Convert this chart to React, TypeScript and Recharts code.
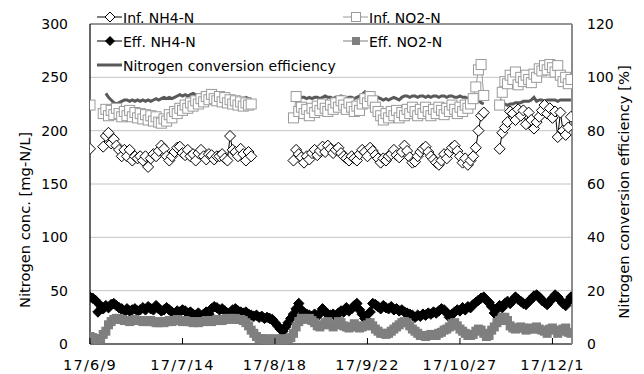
import React from 'react';
import { ComposedChart, Line, XAxis, YAxis, CartesianGrid, Legend, ReferenceLine } from 'recharts';

// ---- axis ticks ----
const tickDays = [0, 35, 70, 105, 140, 175];
const tickLabels = ['17/6/9', '17/7/14', '17/8/18', '17/9/22', '17/10/27', '17/12/1'];
const leftTicks = [0, 50, 100, 150, 200, 250, 300];
const rightTicks = [0, 20, 40, 60, 80, 100, 120];

// ---- series names ----
const seriesNames = {
  infNH4: 'Inf. NH4-N',
  infNO2: 'Inf. NO2-N',
  effNH4: 'Eff. NH4-N',
  effNO2: 'Eff. NO2-N',
  eff: 'Nitrogen conversion efficiency',
};

// ---- influent segments (start day of each segment) ----
const infStarts = [0, 5, 77, 155];
const infNH4A = [183];
const infNH4B = [
  185, 195, 198, 188, 192, 186, 182, 176, 182, 176,
  182, 172, 176, 174, 176, 172, 176, 166, 174, 178,
  176, 181, 186, 183, 176, 172, 176, 180, 184, 185,
  179, 177, 182, 176, 178, 172, 179, 182, 176, 173,
  178, 177, 173, 176, 176, 178, 174, 172, 195, 182,
  180, 176, 183, 178, 172, 180, 176,
];
const infNH4C = [
  172, 182, 178, 175, 170, 176, 173, 179, 182, 177,
  181, 185, 180, 186, 183, 179, 182, 184, 179, 176,
  174, 172, 176, 174, 172, 178, 182, 180, 176, 184,
  181, 177, 174, 170, 174, 172, 176, 178, 182, 177,
  175, 180, 186, 181, 175, 170, 171, 176, 180, 183,
  185, 180, 176, 173, 170, 168, 172, 178, 174, 180,
  184, 186, 181, 176, 170, 174, 168, 172, 176, 184,
  200, 214, 217,
];
const infNH4D = [
  183, 198, 203, 208, 218, 216, 210, 220, 214, 219,
  206, 217, 210, 202, 208, 213, 219, 224, 216, 221,
  212, 218, 194, 217, 200, 196, 203, 213,
];

const infNO2A = [224];
const infNO2B = [
  216, 220, 214, 219, 215, 221, 216, 213, 218, 214,
  219, 213, 217, 212, 216, 211, 215, 210, 214, 209,
  213, 208, 207, 211, 209, 215, 212, 218, 216, 221,
  219, 224, 221, 226, 223, 228, 225, 230, 227, 232,
  229, 234, 230, 228, 232, 227, 231, 226, 229, 225,
  228, 224, 227, 223, 226, 224, 225,
];
const infNO2C = [
  212, 232, 218, 222, 216, 220, 214, 221, 217, 223,
  219, 225, 221, 218, 224, 220, 226, 222, 228, 224,
  220, 226, 222, 218, 223, 219, 225, 230, 226, 232,
  228, 222, 218, 214, 210, 216, 212, 218, 214, 219,
  212, 217, 214, 220, 216, 222, 218, 214, 220, 216,
  222, 218, 214, 220, 216, 222, 219, 215, 221, 218,
  224, 220, 216, 222, 218, 224, 221, 225, 230, 241,
  257, 262, 233,
];
const infNO2D = [
  224, 236, 246, 244, 252, 248, 255, 243, 250, 246,
  252, 248, 245, 253, 250, 258, 256, 261, 257, 262,
  259, 255, 261, 252, 246, 250, 244, 248,
];

// ---- conversion efficiency segments ----
const effStarts = [6, 77, 155];
const effA = [
  94, 92.5, 91.5, 90.5, 90, 90.5, 91, 91.5, 91.5, 91,
  91.5, 91, 91.5, 91, 91.5, 91, 91.5, 91, 91.5, 92,
  91.5, 92, 92.5, 92, 92.5, 92, 92.5, 93, 93.5, 93,
  93.5, 93, 93.5, 94, 93.5, 93, 93.5, 93, 93.5, 93,
  92.5, 93, 92.5, 92, 92.5, 92, 92.5, 92, 92.5, 92,
  92.5, 92, 92, 92.5, 92, 92,
];
const effB = [
  94, 93, 92, 92.5, 92.5, 92, 92.5, 92, 92.5, 92.5,
  92, 92.5, 93, 92.5, 92.5, 92, 92.5, 92.5, 93, 92.5,
  92, 92.5, 92.5, 92, 92.5, 93, 93.5, 94.5, 93, 92,
  92.5, 92, 92.5, 92, 91.5, 92, 91.5, 92, 92.5, 92,
  91.5, 92.5, 93, 93, 92.5, 93, 93, 92.5, 93, 93,
  92.5, 93, 92.5, 93, 93, 92.5, 93, 93, 92.5, 93,
  93, 92.5, 92.5, 93, 92.5, 92.5, 92, 92.5, 92, 91.5,
  91.5, 90.5, 90,
];
const effC = [
  91.5, 90.5, 90, 89.5, 90, 90, 90.5, 90.5, 90.5, 91,
  91, 91, 91.5, 92.5, 91, 91.5, 91.5, 91, 91.5, 91.5,
  91.5, 91.5, 91, 91.5, 91.5, 91.5, 91.5, 91.5,
];

// ---- effluent (daily, day 0 .. 182) ----
const effNH4 = [
  44, 43, 41, 30, 36, 33, 36, 34, 37, 38,
  36, 34, 33, 30, 33, 31, 32, 33, 31, 32,
  34, 32, 35, 33, 32, 36, 33, 31, 32, 34,
  32, 30, 28, 31, 30, 32, 31, 29, 30, 28,
  27, 29, 26, 28, 30, 28, 33, 35, 34, 32,
  33, 31, 29, 27, 32, 33, 31, 30, 29, 30,
  28, 27, 26, 27, 25, 26, 24, 25, 24, 23,
  20, 17, 14, 12, 16, 20, 24, 28, 33, 38,
  32, 29, 28, 27, 26, 28, 26, 29, 33, 30,
  28, 27, 28, 26, 29, 31, 30, 34, 31, 33,
  36, 38, 32, 28, 24, 22, 30, 38, 37, 35,
  33, 36, 34, 33, 35, 32, 33, 31, 32, 30,
  29, 28, 27, 25, 27, 26, 28, 27, 29, 28,
  30, 29, 31, 33, 32, 29, 25, 28, 30, 32,
  31, 34, 32, 35, 34, 37, 39, 41, 43, 44,
  41, 39, 35, 29, 33, 36, 34, 38, 40, 38,
  41, 44, 42, 40, 38, 37, 40, 42, 45, 46,
  44, 41, 39, 37, 40, 43, 46, 44, 41, 38,
  36, 40, 44,
];
const effNO2 = [
  7, 6, 5, 4, 5, 9, 12, 18, 21, 23,
  24, 24, 23, 22, 22, 21, 22, 23, 22, 22,
  21, 22, 21, 22, 21, 20, 20, 21, 20, 21,
  22, 21, 22, 23, 22, 21, 22, 21, 21, 20,
  21, 20, 21, 21, 22, 22, 21, 22, 23, 22,
  22, 23, 24, 24, 23, 24, 23, 23, 22, 20,
  17, 13, 10, 7, 5, 5, 4, 5, 4, 4,
  5, 4, 4, 5, 4, 5, 6, 10, 16, 21,
  24, 24, 23, 24, 22, 20, 17, 16, 18, 20,
  21, 18, 16, 18, 21, 20, 17, 16, 15, 16,
  19, 17, 15, 16, 17, 18, 20, 17, 14, 12,
  10, 10, 9, 10, 12, 14, 16, 18, 20, 21,
  20, 17, 14, 12, 10, 8, 8, 7, 8, 9,
  8, 8, 10, 11, 13, 14, 16, 19, 20, 17,
  14, 12, 10, 8, 8, 9, 12, 14, 13, 10,
  7, 8, 13, 16, 20, 22, 25, 25, 22, 17,
  15, 14, 15, 16, 15, 13, 14, 15, 14, 16,
  14, 13, 12, 10, 14, 15, 13, 10, 12, 14,
  15, 11, 10,
];

// ---- build table ----
type Row = {
  day: number;
  infNH4: number | null;
  infNO2: number | null;
  effNH4: number | null;
  effNO2: number | null;
  eff: number | null;
};
const rows: Row[] = effNH4.map((v, d) => ({
  day: d,
  infNH4: null,
  infNO2: null,
  effNH4: v,
  effNO2: effNO2[d],
  eff: null,
}));
function fill(key: 'infNH4' | 'infNO2' | 'eff', start: number, vals: number[]) {
  vals.forEach((v, i) => {
    rows[start + i][key] = v;
  });
}
[infNH4A, infNH4B, infNH4C, infNH4D].forEach((s, i) => fill('infNH4', infStarts[i], s));
[infNO2A, infNO2B, infNO2C, infNO2D].forEach((s, i) => fill('infNO2', infStarts[i], s));
[effA, effB, effC].forEach((s, i) => fill('eff', effStarts[i], s));

// ---- styles ----
const FONT = "'DejaVu Sans', 'Noto Sans CJK JP', sans-serif";
const INF_NO2_COLOR = '#9a9a9a';
const EFF_NO2_COLOR = '#7f7f7f';
const EFF_COLOR = '#595959';

function diamondPath(cx: number, cy: number, r: number) {
  return `M${cx},${cy - r}L${cx + r},${cy}L${cx},${cy + r}L${cx - r},${cy}Z`;
}

const makeDot = (kind: 'openDiamond' | 'openSquare' | 'fillDiamond' | 'fillSquare') => (props: any) => {
  const { cx, cy, index } = props;
  if (cx == null || cy == null || props.value == null) return <g key={`d-${kind}-${index}`} />;
  if (kind === 'openDiamond')
    return <path key={`d-${kind}-${index}`} d={diamondPath(cx, cy, 5.5)} fill="#fff" stroke="#000" strokeWidth={1} />;
  if (kind === 'fillDiamond')
    return <path key={`d-${kind}-${index}`} d={diamondPath(cx, cy, 5.2)} fill="#000" stroke="#000" strokeWidth={1} />;
  if (kind === 'openSquare')
    return <rect key={`d-${kind}-${index}`} x={cx - 5} y={cy - 5} width={10} height={10} fill="#fff" stroke={INF_NO2_COLOR} strokeWidth={1} />;
  return <rect key={`d-${kind}-${index}`} x={cx - 4.5} y={cy - 4.5} width={9} height={9} fill={EFF_NO2_COLOR} stroke="none" />;
};

const XTick = (props: any) => {
  const { x, y, index } = props;
  return (
    <g>
      <line x1={x} x2={x} y1={y} y2={y - 6} stroke="#000" strokeWidth={1} />
      <text x={x} y={y + 26} textAnchor="middle" fontSize={14.5} fontFamily={FONT} fill="#000" letterSpacing={1.2}>
        {tickLabels[index]}
      </text>
    </g>
  );
};

const AxisTitle = (props: any) => {
  const { cx, cy, text } = props;
  return (
    <text
      x={cx}
      y={cy}
      transform={`rotate(-90 ${cx} ${cy})`}
      textAnchor="middle"
      dominantBaseline="central"
      fontSize={14.7}
      fontFamily={FONT}
      fill="#000"
    >
      {text}
    </text>
  );
};

const legendSlots: Record<string, { x: number; y: number }> = {
  infNH4: { x: 97, y: 17 },
  infNO2: { x: 343, y: 17 },
  effNH4: { x: 97, y: 41 },
  effNO2: { x: 343, y: 41 },
  eff: { x: 97, y: 65 },
};

const LegendMarker = ({ k, x, y }: { k: string; x: number; y: number }) => {
  const mid = x + 13;
  if (k === 'infNH4')
    return (
      <g>
        <line x1={x} x2={x + 25} y1={y} y2={y} stroke="#000" />
        <path d={diamondPath(mid, y, 5)} fill="#fff" stroke="#000" />
      </g>
    );
  if (k === 'effNH4')
    return (
      <g>
        <line x1={x} x2={x + 25} y1={y} y2={y} stroke="#000" />
        <path d={diamondPath(mid, y, 4.5)} fill="#000" stroke="#000" />
      </g>
    );
  if (k === 'infNO2')
    return (
      <g>
        <line x1={x} x2={x + 25} y1={y} y2={y} stroke={INF_NO2_COLOR} />
        <rect x={mid - 4.5} y={y - 4.5} width={9} height={9} fill="#fff" stroke={INF_NO2_COLOR} />
      </g>
    );
  if (k === 'effNO2')
    return (
      <g>
        <line x1={x} x2={x + 25} y1={y} y2={y} stroke={EFF_NO2_COLOR} />
        <rect x={mid - 4} y={y - 4} width={8} height={8} fill={EFF_NO2_COLOR} />
      </g>
    );
  return <line x1={x} x2={x + 25} y1={y} y2={y} stroke={EFF_COLOR} strokeWidth={3} />;
};

const ChartLegend = (props: any) => {
  const payload = props.payload || [];
  return (
    <svg width={644} height={80} style={{ overflow: 'visible', display: 'block' }}>
      {payload.map((p: any) => {
        const k = String(p.dataKey);
        const slot = legendSlots[k];
        if (!slot) return null;
        return (
          <g key={k}>
            <LegendMarker k={k} x={slot.x} y={slot.y} />
            <text x={slot.x + 26} y={slot.y + 5.5} fontSize={14} fontFamily={FONT} fill="#000">
              {p.value}
            </text>
          </g>
        );
      })}
    </svg>
  );
};

export default function App() {
  return (
    <div style={{ position: 'absolute', left: 0, top: 0, width: 644, height: 374, background: '#fff' }}>
      <ComposedChart width={644} height={374} data={rows} margin={{ top: 24, right: 0, bottom: 0, left: 0 }}>
        <CartesianGrid yAxisId="left" vertical={false} stroke="#c4c4c4" strokeWidth={1} />
        <XAxis
          dataKey="day"
          type="number"
          domain={[0, 182.4]}
          ticks={tickDays}
          interval={0}
          allowDataOverflow
          height={30}
          tickSize={0}
          tickMargin={0}
          tickLine={false}
          axisLine={{ stroke: '#000', strokeWidth: 1.2 }}
          tick={<XTick />}
        />
        <YAxis
          yAxisId="left"
          domain={[0, 300]}
          ticks={leftTicks}
          interval={0}
          width={90}
          tickLine={false}
          tickSize={6}
          tickMargin={16}
          axisLine={{ stroke: '#000', strokeWidth: 1.2 }}
          tick={{ fill: '#000', fontSize: 14, fontFamily: FONT }}
          label={<AxisTitle cx={24} cy={220} text="Nitrogen conc. [mg-N/L]" />}
        />
        <YAxis
          yAxisId="right"
          orientation="right"
          domain={[0, 120]}
          ticks={rightTicks}
          interval={0}
          width={72}
          tickLine={false}
          tickSize={6}
          tickMargin={9}
          axisLine={{ stroke: '#8c8c8c', strokeWidth: 2 }}
          tick={{ fill: '#000', fontSize: 14, fontFamily: FONT }}
          label={<AxisTitle cx={623} cy={192} text="Nitrogen conversion efficiency [%]" />}
        />
        <ReferenceLine yAxisId="left" y={300} stroke="#4a4a4a" strokeWidth={1.2} />
        <Line
          yAxisId="left"
          dataKey="infNH4"
          name={seriesNames.infNH4}
          stroke="#000"
          strokeWidth={1}
          dot={makeDot('openDiamond')}
          activeDot={false}
          isAnimationActive={false}
        />
        <Line
          yAxisId="left"
          dataKey="infNO2"
          name={seriesNames.infNO2}
          stroke={INF_NO2_COLOR}
          strokeWidth={1}
          dot={makeDot('openSquare')}
          activeDot={false}
          isAnimationActive={false}
        />
        <Line
          yAxisId="left"
          dataKey="effNH4"
          name={seriesNames.effNH4}
          stroke="#000"
          strokeWidth={1}
          dot={makeDot('fillDiamond')}
          activeDot={false}
          isAnimationActive={false}
        />
        <Line
          yAxisId="left"
          dataKey="effNO2"
          name={seriesNames.effNO2}
          stroke={EFF_NO2_COLOR}
          strokeWidth={1}
          dot={makeDot('fillSquare')}
          activeDot={false}
          isAnimationActive={false}
        />
        <Line
          yAxisId="right"
          dataKey="eff"
          name={seriesNames.eff}
          stroke={EFF_COLOR}
          strokeWidth={3}
          dot={false}
          activeDot={false}
          isAnimationActive={false}
        />
        <Legend
          layout="horizontal"
          verticalAlign="middle"
          align="center"
          content={<ChartLegend />}
          wrapperStyle={{ position: 'absolute', top: 0, left: 0, width: 644, height: 80, pointerEvents: 'none' }}
        />
      </ComposedChart>
    </div>
  );
}
